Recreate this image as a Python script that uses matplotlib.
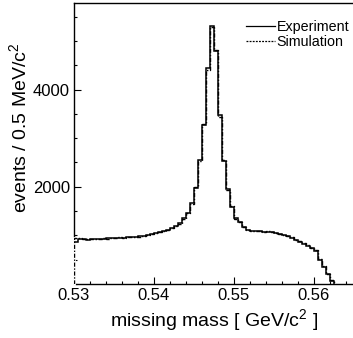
import matplotlib.pyplot as plt
import numpy as np
from matplotlib.ticker import MultipleLocator

plt.rcParams['font.family'] = ['Liberation Sans', 'DejaVu Sans']
plt.rcParams['mathtext.fontset'] = 'custom'
plt.rcParams['mathtext.rm'] = 'Liberation Sans'

# histogram binning: 0.5 MeV bins from 0.530 GeV
bin_lo = 0.530
bin_width = 0.0005
n_bins = 65

experiment = [870, 935, 925, 915, 920, 925, 930, 935, 940, 945,
              950, 950, 955, 960, 965, 970, 980, 990, 1005, 1020,
              1040, 1060, 1085, 1110, 1150, 1190, 1250, 1355, 1455, 1660,
              1975, 2550, 3270, 4440, 5300, 4790, 3470, 2540, 1950, 1590,
              1355, 1280, 1170, 1110, 1090, 1085, 1080, 1075, 1075, 1070,
              1040, 1025, 1005, 980, 950, 900, 860, 830, 790, 740,
              680, 500, 350, 200, 70]

simulation = [940, 945, 930, 935, 925, 935, 925, 945, 935, 950,
              945, 960, 950, 965, 960, 975, 975, 995, 1000, 1030,
              1045, 1065, 1080, 1120, 1160, 1200, 1240, 1340, 1470, 1640,
              2000, 2530, 3300, 4400, 5280, 4820, 3440, 2560, 1930, 1600,
              1340, 1270, 1180, 1120, 1095, 1080, 1090, 1070, 1085, 1065,
              1050, 1030, 1010, 990, 960, 915, 875, 845, 800, 745,
              690, 510, 360, 210, 80]

edges = bin_lo + bin_width * np.arange(n_bins + 1)

fig = plt.figure(figsize=(3.53, 3.38), dpi=100)
ax = fig.add_axes([74 / 353, 54 / 338, 279.5 / 353, 281 / 338])

# the simulation histogram hides the frame below its first bin
ax.plot([edges[0], edges[0]], [0, simulation[0]], color='white', lw=2.0,
        zorder=3, clip_on=False)
ax.stairs(simulation, edges, baseline=0, color='black', lw=1.0,
          linestyle=(0, (3, 1.2, 1, 1.2)), zorder=4, label='Simulation')
ax.stairs(experiment, edges, baseline=None, color='black', lw=1.1,
          zorder=5, label='Experiment')
ax.plot([edges[-1], edges[-1]], [0, experiment[-1]], color='black', lw=1.1, zorder=5)

ax.set_xlim(0.530, 0.565)
ax.set_ylim(0, 5780)

ax.xaxis.set_minor_locator(MultipleLocator(0.002))
ax.yaxis.set_minor_locator(MultipleLocator(500))
ax.set_xticks([0.53, 0.54, 0.55, 0.56])
ax.set_xticklabels(['0.53', '0.54', '0.55', '0.56'])
ax.set_yticks([2000, 4000])
ax.set_yticklabels(['2000', '4000'])

ax.tick_params(which='both', direction='in', top=False, right=False,
               labelsize=12, width=0.8)
ax.tick_params(which='major', length=5, pad=3)
ax.tick_params(which='minor', length=2.5)
ax.spines['right'].set_visible(False)
for s in ['left', 'bottom', 'top']:
    ax.spines[s].set_linewidth(1.0)

ax.set_xlabel('missing mass [ GeV/c$^2$ ]', fontsize=14, labelpad=3)
ax.set_ylabel('events / 0.5 MeV/c$^2$', fontsize=14, loc='top')
ax.yaxis.set_label_coords(-0.155, 0.86)

leg = ax.legend([plt.Line2D([], [], color='black', lw=0.9),
                 plt.Line2D([], [], color='black', lw=0.9, linestyle=(0, (1.5, 1)))],
                ['Experiment', 'Simulation'], loc='upper right',
                bbox_to_anchor=(1.02, 0.975), frameon=False, fontsize=10.3,
                handlelength=2.0, handletextpad=0.1, labelspacing=0.05,
                borderpad=0.2)

plt.savefig('out.png', dpi=100)
